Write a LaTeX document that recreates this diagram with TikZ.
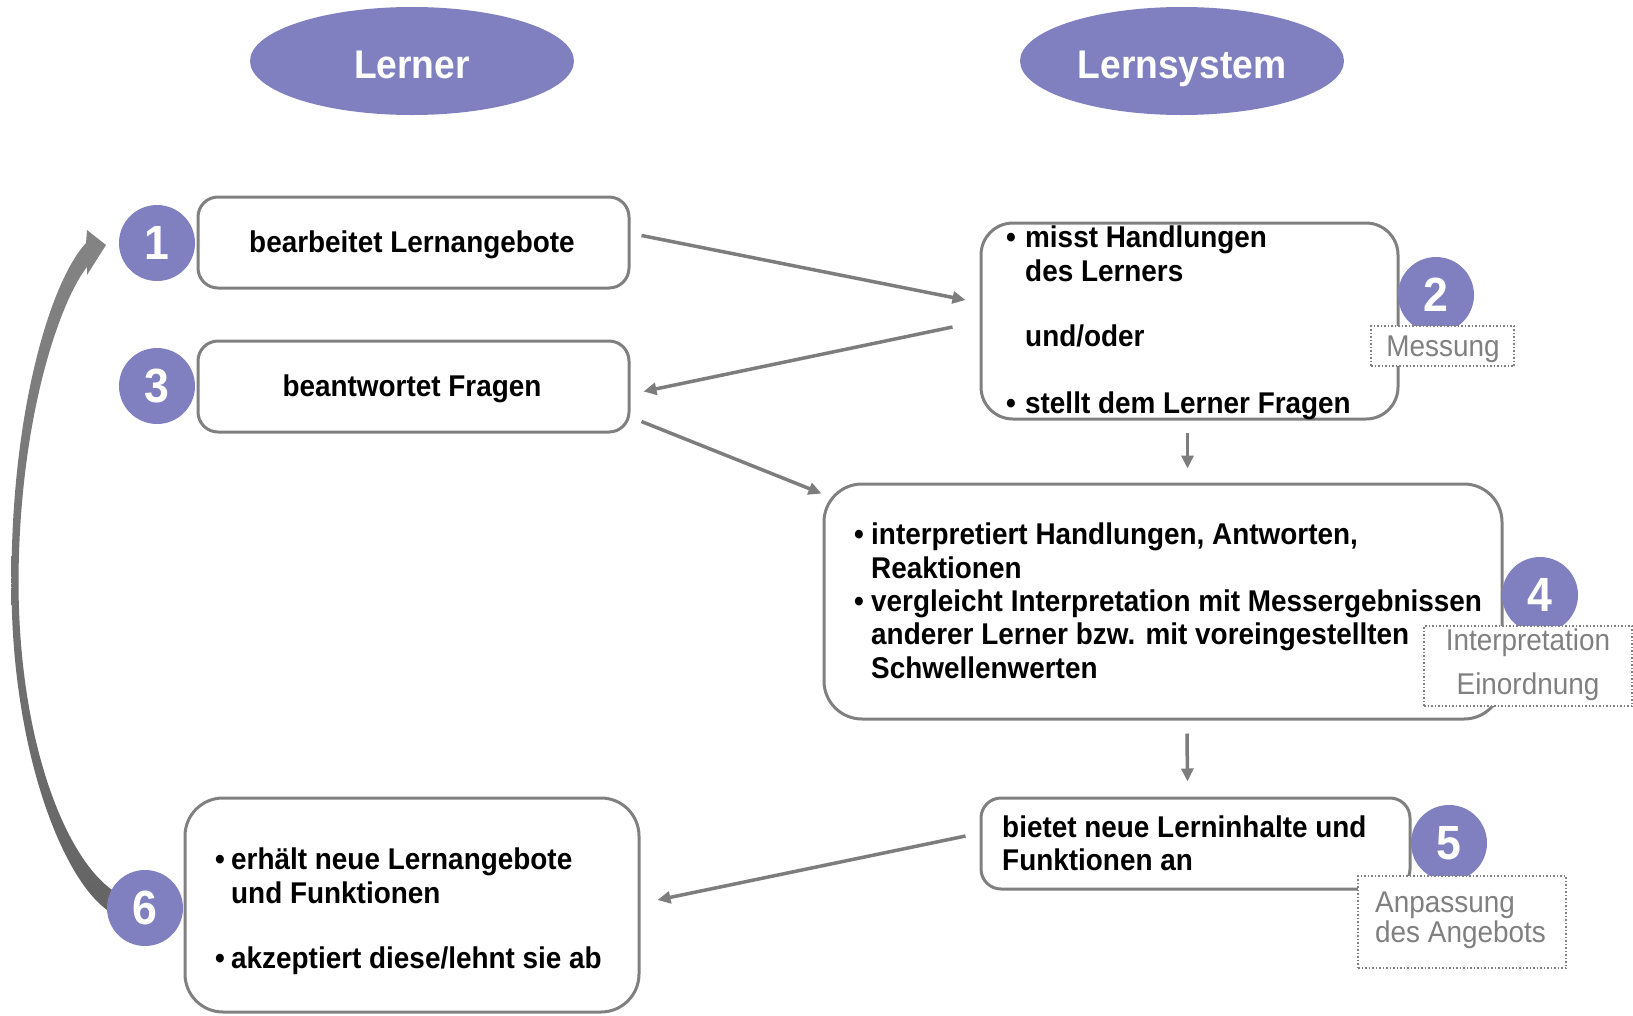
\documentclass[tikz,border=0pt]{standalone}
\usepackage{fontspec}
\setmainfont[FakeStretch=0.93]{Liberation Sans}
\usetikzlibrary{shapes.geometric,arrows.meta,calc}
\definecolor{lila}{RGB}{128,128,192}
\definecolor{rahmen}{RGB}{128,128,128}
\definecolor{pfeil}{RGB}{125,125,125}
\definecolor{labelgray}{RGB}{128,128,128}
\definecolor{bogenoben}{RGB}{132,132,132}
\definecolor{bogenunten}{RGB}{100,100,100}
\begin{document}
\begin{tikzpicture}[x=1pt,y=-1pt,
  box/.style={draw=rahmen, line width=3pt, fill=white, rectangle, inner sep=0pt},
  txt/.style={inner sep=0pt, anchor=base west, font=\fontsize{30}{36}\selectfont\bfseries},
  ctxt/.style={inner sep=0pt, anchor=base, font=\fontsize{30}{36}\selectfont\bfseries},
  num/.style={circle, fill=lila, minimum size=76pt, inner sep=0pt, text=white, font=\fontsize{48}{48}\selectfont\bfseries},
  head/.style={ellipse, fill=lila, minimum width=324pt, minimum height=108pt, inner sep=0pt},
  headtxt/.style={inner sep=0pt, anchor=base, text=white, font=\fontsize{40}{40}\selectfont\bfseries},
  lab/.style={draw=labelgray, dotted, line width=1.5pt, fill=white, inner sep=0pt, rectangle},
  labtxt/.style={inner sep=0pt, text=labelgray, font=\fontsize{30}{36}\selectfont},
  arr/.style={draw=pfeil, line width=3.5pt, -{Triangle[length=13pt,width=12pt]}}]
\useasboundingbox (0,0) rectangle (1633,1015);
\fill[white] (0,0) rectangle (1633,1015);

% headers
\node[head] (e1) at (412,61) {};
\node[headtxt] (e1t) at (412,78) {Lerner};
\node[head] (e2) at (1182,61) {};
\node[headtxt] (e2t) at (1182,78) {Lernsystem};

% boxes
\node[box, rounded corners=20pt, minimum width=431pt, minimum height=91pt] (b1) at (413.5,242.5) {};
\node[box, rounded corners=20pt, minimum width=431pt, minimum height=91pt] (b3) at (413.5,386.5) {};
\node[box, rounded corners=32pt, minimum width=417pt, minimum height=196pt] (b2) at (1189.5,321) {};
\node[box, rounded corners=38pt, minimum width=678pt, minimum height=235pt] (b4) at (1163,601.5) {};
\node[box, rounded corners=20pt, minimum width=429pt, minimum height=91pt] (b5) at (1195.5,843.5) {};
\node[box, rounded corners=38pt, minimum width=454pt, minimum height=214pt] (b6) at (412,905) {};

% texts
\node[ctxt] (t1) at (412,252) {bearbeitet Lernangebote};
\node[ctxt] (t3) at (412,396) {beantwortet Fragen};

\node[txt] (t2a) at (1006,247) {\makebox[19pt][l]{•}misst Handlungen};
\node[txt] (t2b) at (1025,281) {des Lerners};
\node[txt] (t2c) at (1025,346) {und/oder};
\node[txt] (t2d) at (1006,413) {\makebox[19pt][l]{•}stellt dem Lerner Fragen};

\node[txt] (t4a) at (854,544) {\makebox[17pt][l]{•}interpretiert Handlungen, Antworten,};
\node[txt] (t4b) at (871,578) {Reaktionen};
\node[txt] (t4c) at (854,611) {\makebox[17pt][l]{•}vergleicht Interpretation mit Messergebnissen};
\node[txt] (t4d) at (871,644) {anderer Lerner bzw. mit voreingestellten};
\node[txt] (t4e) at (871,678) {Schwellenwerten};

\node[txt] (t5a) at (1002,837) {bietet neue Lerninhalte und};
\node[txt] (t5b) at (1002,870) {Funktionen an};

\node[txt] (t6a) at (215,869) {\makebox[16pt][l]{•}erhält neue Lernangebote};
\node[txt] (t6b) at (231,903) {und Funktionen};
\node[txt] (t6c) at (215,968) {\makebox[16pt][l]{•}akzeptiert diese/lehnt sie ab};

% arrows
\draw[arr] ($(b1.east)+(11,-7)$) -- ($(b2.west)+(-14,-21)$);
\draw[arr] ($(b2.west)+(-27,6)$) -- ($(b3.east)+(13,5)$);
\draw[arr] ($(b3.south east)+(11,-12)$) -- ($(b4.north west)+(-1,11)$);
\draw[arr] ($(b2.south)+(-2,12)$) -- ($(b2.south |- b4.north)+(-2,-14)$);
\draw[arr] ($(b4.south)+(24,13)$) -- ($(b5.north)+(-8,-15)$);
\draw[arr] ($(b5.west)+(-14,-7.5)$) -- ($(b6.east)+(17,-5)$);

% big return arrow (tapered, from 6 back to 1)
\coordinate (bt) at (118,905);
\shade[top color=bogenoben, bottom color=bogenunten]
  (113.5,914) .. controls (65,888) and (11,753) .. (11.5,583)
  .. controls (11,413) and (50,282) .. (86,243)
  -- (87,230) -- (106,245) -- (87,275) -- (87,267)
  .. controls (62,298) and (19,413) .. (18.5,583)
  .. controls (19,753) and (72,873) .. (122.5,896) -- cycle;

% numbers
\node[num] (c1) at (157,243) {1};
\node[num] (c3) at (157,386) {3};
\node[num] (c2) at (1436,295) {2};
\node[num] (c4) at (1540,595) {4};
\node[num] (c5) at (1449,843) {5};
\node[num] (c6) at (145,908) {6};

% labels
\node[lab, minimum width=143pt, minimum height=40pt] (l2) at (1442.5,346) {};
\node[labtxt, anchor=base] (l2t) at (1443,356) {Messung};
\node[lab, minimum width=208pt, minimum height=80pt] (l4) at (1528,666) {};
\node[labtxt, anchor=base] (l4a) at (1528,650) {Interpretation};
\node[labtxt, anchor=base] (l4b) at (1528,694) {Einordnung};
\node[lab, minimum width=208pt, minimum height=92pt] (l5) at (1462,922) {};
\node[labtxt, anchor=base west] (l5a) at (1375,912) {Anpassung};
\node[labtxt, anchor=base west] (l5b) at (1375,942) {des Angebots};
\end{tikzpicture}
\end{document}
